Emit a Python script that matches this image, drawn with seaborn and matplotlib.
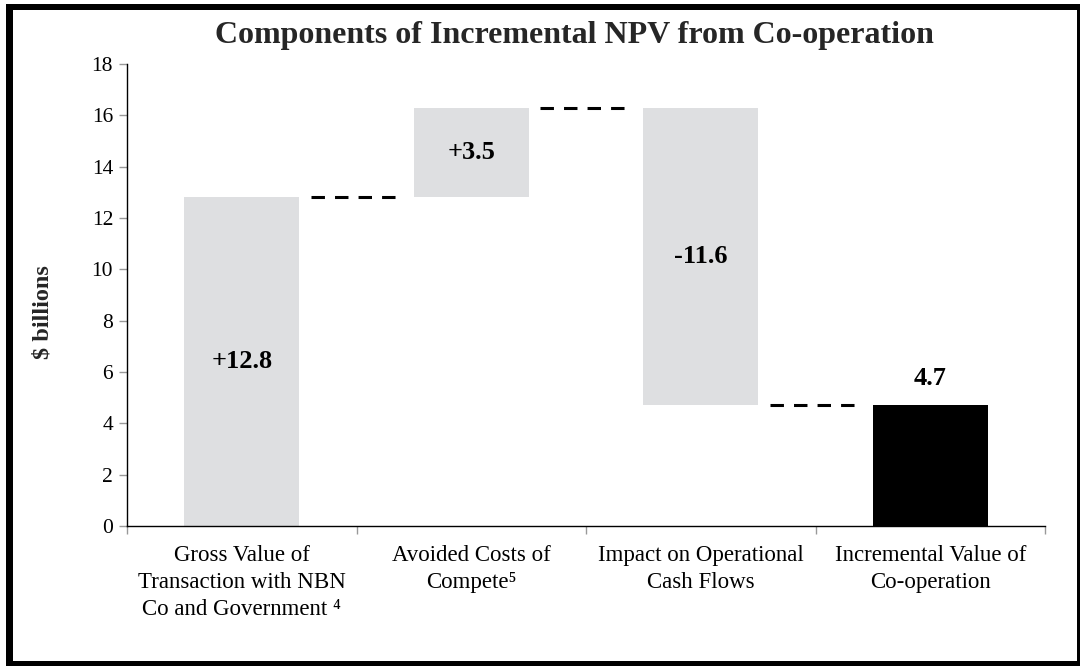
import matplotlib
matplotlib.use("Agg")
import matplotlib.pyplot as plt
import seaborn as sns
import numpy as np
import pandas as pd
from matplotlib.patches import Rectangle

# data
categories = [
    "Gross Value of\nTransaction with NBN\nCo and Government \u2074",
    "Avoided Costs of\nCompete\u2075",
    "Impact on Operational\nCash Flows",
    "Incremental Value of\nCo-operation",
]
changes = [12.8, 3.5, -11.6]
total = 4.7
bar_labels = ["+12.8", "+3.5", "-11.6", "4.7"]
y_ticks = [0, 2, 4, 6, 8, 10, 12, 14, 16, 18]

sns.set_theme(style="white")
plt.rcParams["font.family"] = ["Liberation Serif", "DejaVu Serif"]

# waterfall steps
levels = np.cumsum(changes)
starts = np.concatenate([[0], levels[:-1]])
bases = np.minimum(starts, levels)
heights = np.abs(changes)

steps = pd.DataFrame({"step": categories[:3], "height": heights, "base": bases})
final = pd.DataFrame({"step": [categories[3]], "height": [total]})

fig = plt.figure(figsize=(10.82, 6.66), dpi=100)
ax = fig.add_axes([0.1174, 0.2102, 0.8484, 0.6937])

sns.barplot(data=steps, x="step", y="height", order=categories, color="#dedfe1",
            saturation=1, width=0.5, errorbar=None, bottom=steps["base"].to_numpy(),
            linewidth=0, ax=ax)
sns.barplot(data=final, x="step", y="height", order=categories, color="black",
            saturation=1, width=0.5, errorbar=None, linewidth=0, ax=ax)

# connectors between bars
for i, lvl in enumerate(levels):
    ax.plot([i + 0.30, i + 0.67], [lvl, lvl], color="black", lw=2.2,
            ls=(0, (4.4, 3.3)), solid_capstyle="butt", dash_capstyle="butt")

# value labels
for i in range(3):
    ax.text(i, bases[i] + heights[i] / 2, bar_labels[i], ha="center", va="center",
            fontsize=19, fontweight="bold", color="black")
ax.text(3, total + 1.05, bar_labels[3], ha="center", va="center",
        fontsize=19, fontweight="bold", color="black")

ax.set_xlim(-0.5, 3.5)
ax.set_ylim(0, 18)
ax.set_yticks(y_ticks)
ax.set_xlabel("")
ax.set_ylabel("")
ax.set_xticks(range(4))
ax.set_xticklabels(categories, fontsize=16.5, color="black", linespacing=1.37)
ax.set_xticks(np.arange(-0.5, 4, 1), minor=True)
ax.tick_params(axis="x", which="major", length=0, pad=14)
ax.tick_params(axis="x", which="minor", length=6, color="#999999", width=1, direction="out", bottom=True)
ax.tick_params(axis="y", which="major", length=6, color="#999999", width=1, direction="out",
               left=True, labelsize=15.5, labelcolor="black", pad=4)
for side in ["top", "right"]:
    ax.spines[side].set_visible(False)
for side in ["left", "bottom"]:
    ax.spines[side].set_color("black")
    ax.spines[side].set_linewidth(1)

fig.text(0.531, 0.946, "Components of Incremental NPV from Co-operation",
         ha="center", va="center", fontsize=23, fontweight="bold")
fig.text(0.040, 0.532, "$ billions", rotation=90, ha="center", va="center",
         fontsize=17.5, fontweight="bold")

# outer frame
W, H = 1082, 666
for (x0, y0, w, h) in [(6, 4, 7, 658), (6, 4, 1074, 6), (1077, 4, 3, 662), (6, 661, 1074, 5)]:
    fig.add_artist(Rectangle((x0 / W, 1 - (y0 + h) / H), w / W, h / H,
                             transform=fig.transFigure, color="black", lw=0))

fig.savefig("out.png", dpi=100)
